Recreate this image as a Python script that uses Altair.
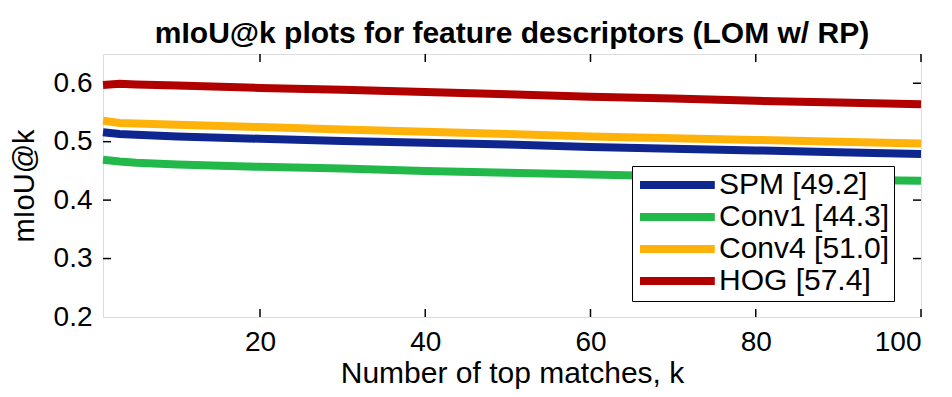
import altair as alt
import pandas as pd

k_values = [1, 3, 5, 10, 20, 30, 40, 50, 60, 70, 80, 90, 100]
spm = [0.516, 0.513, 0.512, 0.509, 0.505, 0.501, 0.498, 0.495, 0.491, 0.488, 0.485, 0.482, 0.479]
conv1 = [0.469, 0.466, 0.464, 0.461, 0.457, 0.454, 0.450, 0.447, 0.444, 0.441, 0.438, 0.435, 0.433]
conv4 = [0.536, 0.532, 0.531, 0.529, 0.525, 0.521, 0.517, 0.513, 0.509, 0.506, 0.503, 0.500, 0.497]
hog = [0.597, 0.599, 0.598, 0.596, 0.592, 0.589, 0.585, 0.581, 0.577, 0.574, 0.570, 0.567, 0.564]

series_names = ["SPM [49.2]", "Conv1 [44.3]", "Conv4 [51.0]", "HOG [57.4]"]
series_colors = ["#10268f", "#22b84a", "#ffb20a", "#b00000"]
x_ticks = [20, 40, 60, 80, 100]
y_ticks = [0.3, 0.4, 0.5, 0.6]

rows = []
for name, vals in zip(series_names, [spm, conv1, conv4, hog]):
    for k, v in zip(k_values, vals):
        rows.append({"k": k, "miou": v, "series": name})
df = pd.DataFrame(rows)

W, H = 818, 263
FONT = "Liberation Sans"

xscale = alt.Scale(domain=[1, 100], nice=False, zero=False)
yscale = alt.Scale(domain=[0.2, 0.65], nice=False, zero=False)

lines = alt.Chart(df).mark_line(strokeWidth=8, strokeCap="butt", clip=False).encode(
    x=alt.X("k:Q", scale=xscale,
            axis=alt.Axis(values=x_ticks, title="Number of top matches, k", ticks=False, domain=False,
                          grid=False, labelFontSize=28, labelFont=FONT, labelColor="black",
                          labelPadding=11, titleFontSize=30, titleFont=FONT, titleFontWeight="normal",
                          titleColor="black", titleY=65, titleBaseline="alphabetic")),
    y=alt.Y("miou:Q", scale=yscale,
            axis=alt.Axis(values=[0.2, 0.3, 0.4, 0.5, 0.6], format=".1f", title="mIoU@k", ticks=False,
                          domain=False, grid=False, labelFontSize=28, labelFont=FONT, labelColor="black",
                          labelPadding=11, titleFontSize=29, titleFont=FONT, titleFontWeight="normal",
                          titleColor="black", titleX=-70, titleBaseline="alphabetic")),
    color=alt.Color("series:N", scale=alt.Scale(domain=series_names, range=series_colors),
                    legend=alt.Legend(title=None, orient="none", legendX=529, legendY=112,
                                      symbolType="M-1,0H5.8", symbolSize=484, symbolStrokeWidth=8,
                                      labelFontSize=30, labelFont=FONT, labelColor="black",
                                      labelOffset=53, rowPadding=0, padding=4,
                                      strokeColor="black", fillColor="white",
                                      labelLimit=400)),
    detail="series:N",
)

xt = pd.DataFrame({"t": x_ticks})
yt = pd.DataFrame({"t": y_ticks})

xb = alt.Chart(xt).mark_rule(color="black", strokeWidth=1.5).encode(
    x=alt.X("t:Q", scale=xscale), y=alt.value(H), y2=alt.value(H - 8))
xtop = alt.Chart(xt).mark_rule(color="black", strokeWidth=1.5).encode(
    x=alt.X("t:Q", scale=xscale), y=alt.value(0), y2=alt.value(8))
yl = alt.Chart(yt).mark_rule(color="black", strokeWidth=1.5).encode(
    y=alt.Y("t:Q", scale=yscale), x=alt.value(0), x2=alt.value(8))
yr = alt.Chart(yt).mark_rule(color="black", strokeWidth=1.5).encode(
    y=alt.Y("t:Q", scale=yscale), x=alt.value(W), x2=alt.value(W - 8))

chart = alt.layer(xb, xtop, yl, yr, lines).properties(
    width=W, height=H,
    title=alt.Title("mIoU@k plots for feature descriptors (LOM w/ RP)", fontSize=30, font=FONT,
                    fontWeight="bold", color="black", anchor="middle", offset=4, baseline="bottom",
                    dy=30),
    autosize=alt.AutoSizeParams(type="none"),
    padding={"left": 95, "top": 46, "right": 23, "bottom": 72},
).configure_view(stroke="black", strokeWidth=1.8).configure(background="white")

chart.save("out.html", embed_options={"renderer": "svg", "actions": False})
